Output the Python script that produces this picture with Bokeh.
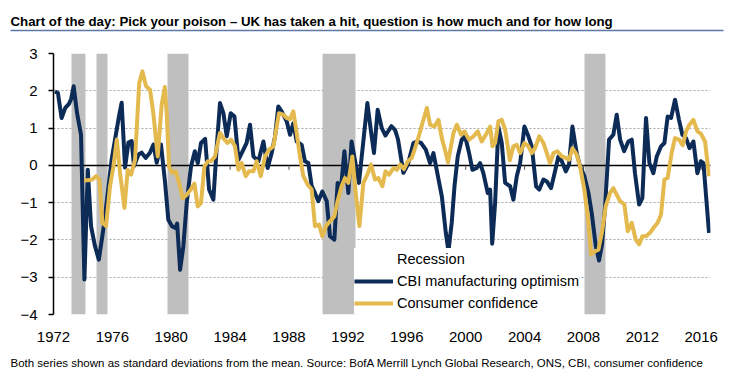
from bokeh.plotting import figure
from bokeh.layouts import column
from bokeh.models import (Range1d, FixedTicker, Label, Legend, LegendItem, BoxAnnotation)
from bokeh.embed import file_html
from bokeh.resources import INLINE

TITLE = "Chart of the day: Pick your poison \u2013 UK has taken a hit, question is how much and for how long"
FOOTER = "Both series shown as standard deviations from the mean. Source:  BofA Merrill Lynch Global Research, ONS, CBI, consumer confidence"

tick_years = [1972, 1976, 1980, 1984, 1988, 1992, 1996, 2000, 2004, 2008, 2012, 2016]
y_ticks = [-4, -3, -2, -1, 0, 1, 2, 3]

rec_start = [1973.25, 1974.95, 1979.75, 1990.25, 2008.05]
rec_end = [1974.2, 1975.7, 1981.2, 1992.5, 2009.5]

cbi_dates = [1972.10, 1972.30, 1972.55, 1972.80, 1973.05, 1973.20, 1973.37, 1973.60, 1973.87, 1974.10,
             1974.33, 1974.55, 1974.82, 1975.08, 1975.45, 1975.95, 1976.45, 1976.63, 1976.86, 1977.09,
             1977.31, 1977.47, 1977.77, 1977.99, 1978.26, 1978.55, 1978.79, 1979.01, 1979.30, 1979.57,
             1979.80, 1980.05, 1980.28, 1980.40, 1980.60, 1980.82, 1981.05, 1981.34, 1981.60, 1981.80,
             1982.02, 1982.30, 1982.57, 1982.86, 1983.09, 1983.31, 1983.54, 1983.77, 1984.04, 1984.29,
             1984.56, 1984.90, 1985.12, 1985.35, 1985.58, 1985.92, 1986.26, 1986.55, 1986.82, 1987.05,
             1987.27, 1987.50, 1987.84, 1988.07, 1988.29, 1988.52, 1988.86, 1989.08, 1989.31, 1989.54,
             1989.76, 1989.99, 1990.26, 1990.56, 1990.78, 1991.08, 1991.30, 1991.53, 1991.76, 1992.03,
             1992.25, 1992.75, 1993.32, 1993.55, 1993.77, 1994.02, 1994.30, 1994.55, 1994.95, 1995.20,
             1995.40, 1995.77, 1996.07, 1996.45, 1996.68, 1996.97, 1997.29, 1997.58, 1997.81, 1998.03,
             1998.38, 1998.65, 1998.83, 1999.05, 1999.24, 1999.46, 1999.73, 1999.96, 2000.23, 2000.46,
             2000.75, 2000.98, 2001.20, 2001.50, 2001.66, 2001.80, 2002.00, 2002.22, 2002.45, 2002.68,
             2003.02, 2003.24, 2003.47, 2003.70, 2003.99, 2004.26, 2004.49, 2004.78, 2005.00, 2005.28,
             2005.51, 2005.80, 2006.07, 2006.30, 2006.53, 2006.80, 2007.02, 2007.25, 2007.54, 2007.77,
             2008.06, 2008.34, 2008.56, 2008.84, 2009.06, 2009.26, 2009.47, 2009.74, 2010.03, 2010.26,
             2010.49, 2010.76, 2011.05, 2011.28, 2011.50, 2011.78, 2012.00, 2012.25, 2012.48, 2012.75,
             2012.98, 2013.27, 2013.50, 2013.72, 2013.95, 2014.22, 2014.49, 2014.72, 2014.97, 2015.20,
             2015.47, 2015.74, 2015.97, 2016.15, 2016.53]
cbi_vals = [1.98, 1.94, 1.27, 1.54, 1.65, 1.78, 2.12, 1.40, 0.82, -3.06,
            -0.12, -1.63, -2.17, -2.53, -1.54, 0.16, 1.32, 1.68, -0.06, 0.61,
            0.65, -0.02, 0.29, 0.34, 0.20, 0.34, 0.56, 0.07, 0.56, -0.42,
            -1.46, -1.63, -1.68, -1.56, -2.80, -2.17, -1.00, -0.03, 0.38, 0.06,
            0.60, 0.71, -0.65, -0.92, 0.51, 1.67, 1.40, 0.78, 1.40, 1.31,
            0.15, 0.42, 0.60, 1.09, 0.24, 0.11, 0.64, -0.07, 0.33, 0.78,
            1.58, 1.45, 1.18, 0.82, 1.13, 0.64, 0.55, 0.11, 0.06, -0.56,
            -0.74, -0.96, -0.70, -0.96, -1.90, -1.99, -0.47, -0.61, 0.38, -0.74,
            0.64, -0.47, 1.67, 0.96, 0.33, 1.49, 1.00, 0.80, 1.05, 0.95,
            0.70, -0.20, 0.02, 0.60, 0.64, 0.60, 0.42, 0.06, 0.33, -0.12,
            -0.83, -1.81, -2.30, -1.54, -0.56, 0.24, 0.69, 0.78, 0.33, -0.12,
            -0.07, 0.06, -0.21, -0.74, -0.65, -2.10, -1.00, 1.04, 0.60, -0.47,
            -0.56, -0.92, -0.29, 0.06, 1.04, 0.78, 0.51, -0.56, -0.65, -0.38,
            -0.43, -0.61, -0.16, 0.24, 0.11, -0.16, 0.02, 1.04, 0.33, -0.03,
            -0.29, -0.74, -1.28, -2.17, -2.55, -2.12, -1.10, 0.69, 0.82, 1.36,
            0.69, 0.38, 0.64, 0.69, -0.21, -1.05, -0.88, 1.27, 0.06, -0.21,
            0.24, 0.51, 0.60, 1.31, 1.27, 1.76, 1.22, 0.82, 0.73, 0.46,
            0.64, -0.21, 0.11, 0.06, -1.81]

cc_dates = [1974.08, 1974.37, 1974.64, 1974.89, 1975.12, 1975.32, 1975.57, 1975.84, 1976.07, 1976.30,
            1976.52, 1976.82, 1977.04, 1977.27, 1977.54, 1977.82, 1978.04, 1978.29, 1978.56, 1978.78,
            1979.08, 1979.35, 1979.56, 1979.69, 1979.85, 1980.07, 1980.30, 1980.53, 1980.78, 1981.05,
            1981.32, 1981.57, 1981.80, 1982.02, 1982.25, 1982.48, 1982.70, 1982.97, 1983.31, 1983.54,
            1983.81, 1984.06, 1984.33, 1984.56, 1984.78, 1985.06, 1985.28, 1985.58, 1985.80, 1986.08,
            1986.37, 1986.64, 1986.94, 1987.10, 1987.32, 1987.61, 1987.84, 1988.07, 1988.29, 1988.52,
            1988.74, 1988.97, 1989.27, 1989.54, 1989.76, 1990.04, 1990.26, 1990.51, 1990.78, 1991.08,
            1991.30, 1991.57, 1991.80, 1992.03, 1992.30, 1992.53, 1992.78, 1993.05, 1993.32, 1993.57,
            1993.84, 1994.07, 1994.34, 1994.55, 1994.80, 1995.09, 1995.32, 1995.55, 1995.80, 1996.07,
            1996.34, 1996.56, 1996.84, 1997.06, 1997.36, 1997.58, 1997.88, 1998.15, 1998.38, 1998.65,
            1998.80, 1999.17, 1999.40, 1999.69, 1999.92, 2000.23, 2000.53, 2000.82, 2001.09, 2001.37,
            2001.66, 2001.82, 2002.00, 2002.22, 2002.45, 2002.68, 2003.00, 2003.24, 2003.47, 2003.70,
            2003.99, 2004.26, 2004.49, 2004.71, 2005.00, 2005.28, 2005.51, 2005.73, 2005.96, 2006.23,
            2006.53, 2006.80, 2007.02, 2007.25, 2007.54, 2007.77, 2008.06, 2008.29, 2008.52, 2008.79,
            2009.02, 2009.29, 2009.51, 2009.81, 2010.03, 2010.26, 2010.49, 2010.78, 2011.01, 2011.28,
            2011.55, 2011.78, 2012.00, 2012.25, 2012.52, 2012.75, 2013.04, 2013.27, 2013.50, 2013.72,
            2013.99, 2014.22, 2014.49, 2014.74, 2014.97, 2015.20, 2015.47, 2015.74, 2015.97, 2016.26,
            2016.53]
cc_vals = [-0.40, -0.40, -0.38, -0.29, -0.38, -1.54, -1.63, -0.56, -0.03, 0.69,
           -0.20, -1.14, -0.12, -0.25, 0.15, 2.20, 2.52, 2.12, 2.03, 1.40,
           0.24, 1.63, 2.10, 1.40, -0.03, -0.20, -0.16, -0.47, -0.88, -0.79,
           -0.65, -0.49, -1.10, -1.01, -0.03, 0.11, 0.11, 0.24, 0.87, 0.73,
           0.60, 0.69, 0.51, -0.12, 0.06, -0.29, -0.16, -0.16, 0.11, -0.29,
           0.24, 0.42, 0.51, 0.90, 1.40, 1.36, 1.27, 1.24, 1.45, 0.87,
           0.24, -0.29, -0.52, -0.65, -1.63, -1.59, -1.90, -1.63, -1.50, -1.37,
           -0.96, -0.56, -0.34, -0.47, 0.24, -0.74, -1.63, -0.47, -0.25, 0.02,
           -0.38, -0.34, -0.56, -0.16, -0.25, -0.07, -0.12, 0.02, -0.10, 0.11,
           0.20, 0.46, 0.82, 1.13, 1.54, 1.09, 1.04, 1.22, 0.73, 0.33,
           0.08, 0.87, 1.09, 0.82, 0.91, 0.69, 0.78, 0.91, 0.64, 0.82,
           1.04, 0.51, 0.60, 1.18, 1.22, 0.96, 0.14, 0.51, 0.55, 0.33,
           0.60, 0.51, 0.33, 0.46, 0.78, 0.60, 0.33, 0.06, 0.33, 0.38,
           0.24, 0.20, 0.15, 0.46, 0.29, -0.03, -0.65, -1.37, -2.39, -2.30,
           -2.26, -1.72, -1.10, -0.74, -0.61, -0.79, -0.96, -1.05, -1.77, -1.54,
           -1.99, -2.12, -1.90, -1.90, -1.81, -1.68, -1.54, -1.32, -0.38, -0.34,
           0.33, 0.73, 0.69, 0.54, 0.91, 1.09, 1.22, 0.91, 0.85, 0.64,
           -0.29]

NAVY = "#0C2B57"
GOLD = "#E4BA4F"
GREY = "#BFBFBF"
FONT = "Liberation Sans"
W = 741


def text_strip(height):
    f = figure(width=W, height=height, output_backend="svg", toolbar_location=None,
               x_range=Range1d(0, W), y_range=Range1d(0, height),
               x_axis_location=None, y_axis_location=None, frame_align=False,
               min_border=0, min_border_left=0, min_border_right=0,
               min_border_top=0, min_border_bottom=0)
    f.outline_line_color = None
    f.grid.visible = False
    return f


# ---- title strip ----
top = text_strip(44)
top.add_layout(Label(x=10, y=23, text=TITLE, text_font=FONT, text_font_style="bold",
                     text_font_size="13.25px", text_color="black", text_baseline="alphabetic"))
top.add_layout(BoxAnnotation(left=10, right=723, bottom=13.3, top=14.8,
                             fill_color="#5B79A8", fill_alpha=1, line_color=None))

# ---- main chart ----
p = figure(width=W, height=302, output_backend="svg", toolbar_location=None,
           x_range=Range1d(1972.0, 2016.63), y_range=Range1d(-4, 3), frame_align=False,
           min_border_left=53, min_border_right=31, min_border_top=9, min_border_bottom=32)
p.outline_line_color = None

p.vstrip(x0=rec_start, x1=rec_end, fill_color=GREY, line_color=None)
p.hspan(y=[0], line_color="black", line_width=1.5)
p.segment(x0=tick_years, y0=[0] * len(tick_years), x1=tick_years, y1=[-0.12] * len(tick_years),
          line_color="#555555", line_width=1)

cbi = p.line(cbi_dates, cbi_vals, line_color=NAVY, line_width=4, line_join="round")
cc = p.line(cc_dates, cc_vals, line_color=GOLD, line_width=4, line_join="round")
rec_leg = p.line(x=[], y=[], line_color=GREY, line_width=10)

legend = Legend(items=[LegendItem(label="Recession", renderers=[rec_leg]),
                       LegendItem(label="CBI manufacturing optimism", renderers=[cbi]),
                       LegendItem(label="Consumer confidence", renderers=[cc])],
                location=(301, 0), orientation="vertical")
legend.margin = 0
legend.padding = 0
legend.spacing = 0
legend.glyph_width = 39
legend.glyph_height = 22
legend.label_height = 22
legend.label_standoff = 4
legend.border_line_color = None
legend.background_fill_color = "white"
legend.background_fill_alpha = 1
legend.label_text_font = FONT
legend.label_text_font_size = "14.5px"
legend.label_text_color = "black"
p.add_layout(legend, "center")

p.xaxis.ticker = FixedTicker(ticks=tick_years)
p.xaxis.axis_line_color = None
p.xaxis.major_tick_line_color = None
p.xaxis.minor_tick_line_color = None
p.xaxis.major_label_standoff = 11
p.xaxis.major_label_text_font = FONT
p.xaxis.major_label_text_font_size = "15px"
p.xaxis.major_label_text_color = "black"

p.yaxis.ticker = FixedTicker(ticks=y_ticks)
p.yaxis.axis_line_color = "black"
p.yaxis.axis_line_width = 1.5
p.yaxis.major_tick_line_color = "black"
p.yaxis.major_tick_line_width = 1.5
p.yaxis.major_tick_out = 5
p.yaxis.major_tick_in = 0
p.yaxis.minor_tick_line_color = None
p.yaxis.major_label_standoff = 11
p.yaxis.major_label_text_font = FONT
p.yaxis.major_label_text_font_size = "15px"
p.yaxis.major_label_text_color = "black"

p.xgrid.grid_line_color = None
p.ygrid.ticker = FixedTicker(ticks=y_ticks)
p.ygrid.grid_line_color = "#A6A6A6"
p.ygrid.grid_line_dash = "2 2"
p.ygrid.grid_line_width = 1

# ---- footer strip ----
bottom = text_strip(28)
bottom.add_layout(Label(x=10, y=12, text=FOOTER, text_font=FONT, text_font_size="11.5px",
                        text_color="black", text_baseline="alphabetic"))

layout = column(top, p, bottom, spacing=0)
open("out.html", "w").write(file_html(layout, INLINE))
